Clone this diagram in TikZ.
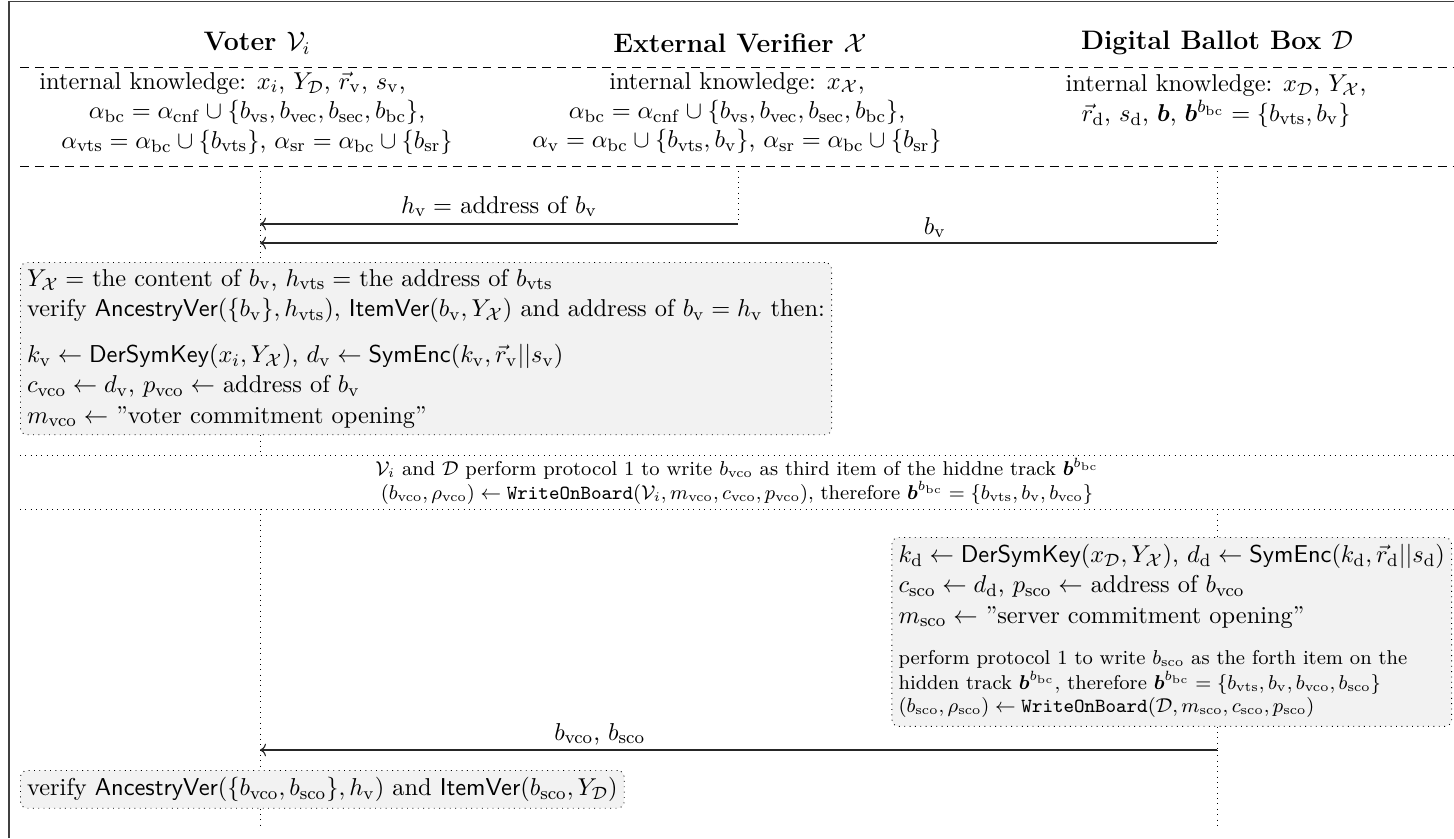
\documentclass[tikz,border=0pt]{standalone}
\usepackage{amsmath,amssymb,bm}
\usetikzlibrary{arrows.meta}
\newcommand{\sr}[1]{\mathrm{#1}}
\newcommand{\bodyfnt}{\fontsize{10.95pt}{13.6pt}\selectfont}
\newcommand{\knowfnt}{\fontsize{10.95pt}{13.2pt}\selectfont}
\newcommand{\minifnt}{\fontsize{9pt}{10.5pt}\selectfont}
\newcommand{\hdrfnt}{\fontsize{12pt}{14pt}\selectfont\bfseries}
\tikzset{
  life/.style={dotted, line width=0.4pt},
  sepdash/.style={dash pattern=on 4pt off 2.7pt, line width=0.4pt},
  sepdot/.style={dotted, line width=0.4pt},
  msg/.style={->, line width=0.5pt, black!85},
  proc/.style={draw, dotted, rounded corners=3pt, fill=gray!10, align=left, inner sep=3pt, font=\bodyfnt},
  hdr/.style={font=\hdrfnt},
  know/.style={align=center, font=\knowfnt},
  lbl/.style={inner sep=2pt, font=\bodyfnt, text=black}
}
\begin{document}
\begin{tikzpicture}[x=0.449pt, y=-0.449pt]
\useasboundingbox (0,0) rectangle (1454,838);
% frame
\draw[black!75, line width=0.6pt] (9,838) -- (9,1.5) -- (1454,1.5);
% headers
\node[hdr] (hV) at (257,43) {Voter $\mathcal{V}_i$};
\node[hdr] (hX) at (740,43) {External Verifier $\mathcal{X}$};
\node[hdr] (hD) at (1217,43) {Digital Ballot Box $\mathcal{D}$};
\draw[sepdash] (20,67) -- (1454,67);
% knowledge
\node[know] (kV) at (257,113) {internal knowledge: $x_i$, $Y_{\mathcal{D}}$, $\vec{r}_{\sr{v}}$, $s_{\sr{v}}$,\hspace*{31pt}\\
$\alpha_{\sr{bc}} = \alpha_{\sr{cnf}} \cup \{b_{\sr{vs}}, b_{\sr{vec}}, b_{\sr{sec}}, b_{\sr{bc}}\}$,\\
$\alpha_{\sr{vts}} = \alpha_{\sr{bc}} \cup \{b_{\sr{vts}}\}$, $\alpha_{\sr{sr}} = \alpha_{\sr{bc}} \cup \{b_{\sr{sr}}\}$};
\node[know] (kX) at (737,113) {internal knowledge: $x_{\mathcal{X}}$,\\
$\alpha_{\sr{bc}} = \alpha_{\sr{cnf}} \cup \{b_{\sr{vs}}, b_{\sr{vec}}, b_{\sr{sec}}, b_{\sr{bc}}\}$,\\
$\alpha_{\sr{v}} = \alpha_{\sr{bc}} \cup \{b_{\sr{vts}}, b_{\sr{v}}\}$, $\alpha_{\sr{sr}} = \alpha_{\sr{bc}} \cup \{b_{\sr{sr}}\}$};
\node[know] (kD) at (1216,101) {internal knowledge: $x_{\mathcal{D}}$, $Y_{\mathcal{X}}$,\\
$\vec{r}_{\sr{d}}$, $s_{\sr{d}}$, $\boldsymbol{b}$, $\boldsymbol{b}^{b_{\sr{bc}}} = \{b_{\sr{vts}}, b_{\sr{v}}\}$};
\draw[sepdash] (20,166) -- (1454,166);
% lifeline anchors
\coordinate (VL) at (260,166);
\coordinate (XL) at (738,166);
\coordinate (DL) at (1217,166);
% messages 1 and 2
\coordinate (xa) at (738,224);
\coordinate (va) at (260,224);
\coordinate (da) at (1217,243);
\coordinate (vb) at (260,243);
\draw[life] (XL) -- (xa);
\draw[life] (DL) -- (da);
\draw[msg] (xa) -- node[lbl, above, pos=0.5, yshift=1pt] (l1) {$h_{\sr{v}} = $ address of $b_{\sr{v}}$} (va);
\draw[msg] (da) -- node[lbl, above, pos=0.295] (l2) {$b_{\sr{v}}$} (vb);
% box 1
\node[proc, anchor=north west] (box1) at (20,262) {$Y_{\mathcal{X}} = $ the content of $b_{\sr{v}}$, $h_{\sr{vts}} =$ the address of $b_{\sr{vts}}$\\
verify $\textsf{AncestryVer}(\{b_{\sr{v}}\}, h_{\sr{vts}})$, $\textsf{ItemVer}(b_{\sr{v}}, Y_{\mathcal{X}})$ and address of $b_{\sr{v}} = h_{\sr{v}}$ then:\\[7pt]
$k_{\sr{v}} \leftarrow \textsf{DerSymKey}(x_i, Y_{\mathcal{X}})$, $d_{\sr{v}} \leftarrow \textsf{SymEnc}(k_{\sr{v}}, \vec{r}_{\sr{v}} || s_{\sr{v}})$\\
$c_{\sr{vco}} \leftarrow d_{\sr{v}}$, $p_{\sr{vco}} \leftarrow$ address of $b_{\sr{v}}$\\
$m_{\sr{vco}} \leftarrow$ ''voter commitment opening''};
\draw[life] (VL) -- (VL |- box1.north);
% middle section
\coordinate (mA) at (260,455);
\coordinate (mB) at (260,509);
\draw[sepdot] (20,455) -- (1454,455);
\draw[sepdot] (20,509) -- (1454,509);
\draw[life] (VL |- box1.south) -- (mA);
\node[align=center, font=\minifnt] (mid) at (737,481) {$\mathcal{V}_i$ and $\mathcal{D}$ perform protocol 1 to write $b_{\sr{vco}}$ as third item of the hiddne track $\boldsymbol{b}^{b_{\sr{bc}}}$\\
$(b_{\sr{vco}}, \rho_{\sr{vco}}) \leftarrow \texttt{WriteOnBoard}(\mathcal{V}_i, m_{\sr{vco}}, c_{\sr{vco}}, p_{\sr{vco}})$, therefore $\boldsymbol{b}^{b_{\sr{bc}}} = \{b_{\sr{vts}}, b_{\sr{v}}, b_{\sr{vco}}\}$};
% box 2
\coordinate (dB) at (1217,509);
\node[proc, anchor=north east] (box2) at (1452,537) {$k_{\sr{d}} \leftarrow \textsf{DerSymKey}(x_{\mathcal{D}}, Y_{\mathcal{X}})$, $d_{\sr{d}} \leftarrow \textsf{SymEnc}(k_{\sr{d}}, \vec{r}_{\sr{d}}||s_{\sr{d}})$\\
$c_{\sr{sco}} \leftarrow d_{\sr{d}}$, $p_{\sr{sco}} \leftarrow$ address of $b_{\sr{vco}}$\\
$m_{\sr{sco}} \leftarrow$ ''server commitment opening''\\[8pt]
{\minifnt\begin{tabular}{@{}l@{}}perform protocol 1 to write $b_{\sr{sco}}$ as the forth item on the\\
hidden track $\boldsymbol{b}^{b_{\sr{bc}}}$, therefore $\boldsymbol{b}^{b_{\sr{bc}}} = \{b_{\sr{vts}}, b_{\sr{v}}, b_{\sr{vco}}, b_{\sr{sco}}\}$\\
$(b_{\sr{sco}}, \rho_{\sr{sco}}) \leftarrow \texttt{WriteOnBoard}(\mathcal{D}, m_{\sr{sco}}, c_{\sr{sco}}, p_{\sr{sco}})$\end{tabular}}};
\draw[life] (dB) -- (dB |- box2.north);
% message 3
\coordinate (dc) at (1217,750);
\coordinate (vc) at (260,750);
\draw[life] (dB |- box2.south) -- (dc);
\draw[msg] (dc) -- node[lbl, above, pos=0.645] (l3) {$b_{\sr{vco}}$, $b_{\sr{sco}}$} (vc);
% box 3
\node[proc, anchor=north west] (box3) at (20,770) {verify $\textsf{AncestryVer}(\{b_{\sr{vco}}, b_{\sr{sco}}\}, h_{\sr{v}})$ and $\textsf{ItemVer}(b_{\sr{sco}}, Y_{\mathcal{D}})$};
\coordinate (vEnd) at (260,828);
\coordinate (dEnd) at (1217,828);
\draw[life] (mB) -- (vc) -- (mB |- box3.north);
\draw[life] (vc |- box3.south) -- (vEnd);
\draw[life] (dc) -- (dEnd);
\end{tikzpicture}
\end{document}
